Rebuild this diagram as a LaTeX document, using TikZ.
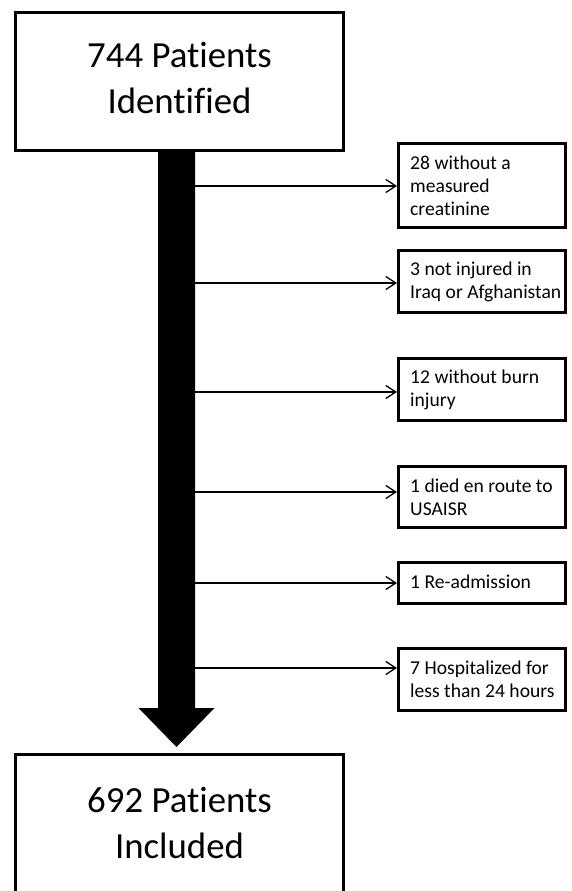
\documentclass[tikz,border=0pt]{standalone}
\usepackage{fontspec}
\setmainfont{Carlito}[Ligatures=NoCommon]
\usetikzlibrary{arrows.meta}
\begin{document}
\begin{tikzpicture}[x=1pt,y=-1pt,
  bigbox/.style={draw, line width=3.3pt, minimum width=327.8pt, minimum height=137.8pt, inner sep=0pt},
  bigtext/.style={align=center, font=\fontsize{36.8}{46}\selectfont, inner sep=0pt},
  sidebox/.style={draw, line width=3pt, minimum width=167pt, inner sep=0pt},
  sidetext/.style={align=left, anchor=west, font=\fontsize{19.6}{23}\selectfont, inner sep=0pt},
  excl/.style={line width=1.3pt, -{Straight Barb[length=10pt,width=13pt]}}
]
\useasboundingbox (0,0) rectangle (572,891);
\clip (0,0) rectangle (572,891);
\fill[white] (0,0) rectangle (572,891);

% main boxes
\node[bigbox] (top) at (179.5,81.5) {};
\node[bigtext] (toptext) at (179.5,78) {744 Patients\\Identified};
\node[bigbox] (bot) at (179.5,823.5) {};
\node[bigtext] (bottext) at (179.5,822.5) {692 Patients\\Included};

% thick flow arrow
\coordinate (tip) at (176.5,747);
\fill (158,150) -- (195,150) -- (195,708) -- (214.5,708) -- (tip) -- (138.5,708) -- (158,708) -- cycle;

% exclusion boxes
\node[sidebox, minimum height=84pt] (b1) at (482,185.5) {};
\node[sidetext] (t1) at (410,185.5) {28 without a\\measured\\creatinine};
\node[sidebox, minimum height=62pt] (b2) at (482,281.5) {};
\node[sidetext] (t2) at (410,281.5) {3 not injured in\\Iraq or Afghanistan};
\node[sidebox, minimum height=62pt] (b3) at (482,389.5) {};
\node[sidetext] (t3) at (410,389.5) {12 without burn\\injury};
\node[sidebox, minimum height=61pt] (b4) at (482,497) {};
\node[sidetext] (t4) at (410,497) {1 died en route to\\USAISR};
\node[sidebox, minimum height=41pt] (b5) at (482,583) {};
\node[sidetext] (t5) at (410,582) {1 Re-admission};
\node[sidebox, minimum height=62pt] (b6) at (482,679.5) {};
\node[sidetext] (t6) at (410,679.5) {7 Hospitalized for\\less than 24 hours};

% exclusion arrows
\coordinate (s1) at (195,186);
\coordinate (s2) at (195,283);
\coordinate (s3) at (195,392);
\coordinate (s4) at (195,492);
\coordinate (s5) at (195,583);
\coordinate (s6) at (195,668);
\draw[excl] (s1) -- (s1 -| b1.west);
\draw[excl] (s2) -- (s2 -| b2.west);
\draw[excl] (s3) -- (s3 -| b3.west);
\draw[excl] (s4) -- (s4 -| b4.west);
\draw[excl] (s5) -- (s5 -| b5.west);
\draw[excl] (s6) -- (s6 -| b6.west);
\end{tikzpicture}
\end{document}
